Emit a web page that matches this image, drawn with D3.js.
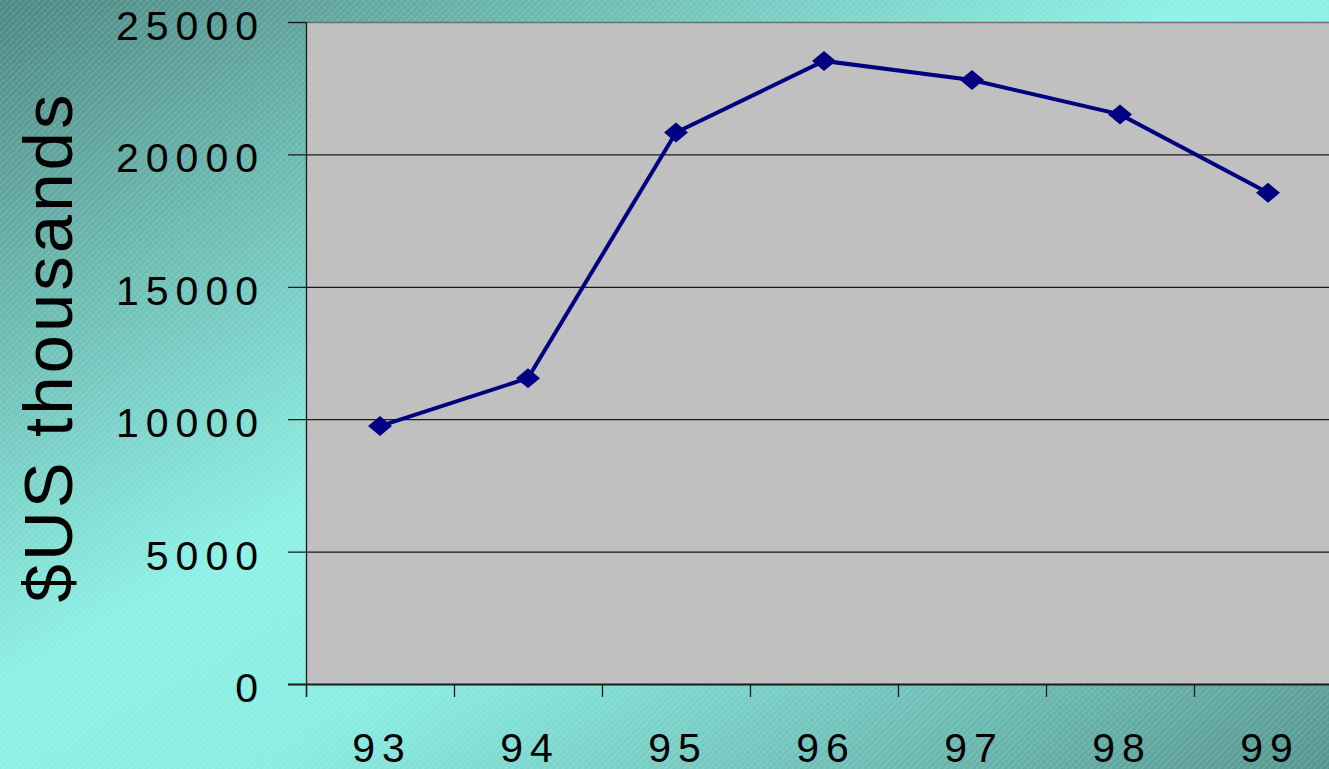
<!DOCTYPE html>
<html>
<head>
<meta charset="utf-8">
<script src="https://cdn.jsdelivr.net/npm/d3@7"></script>
<style>
  html, body { margin: 0; padding: 0; overflow: hidden; }
  svg { display: block; }
</style>
</head>
<body>
<div id="chart"></div>
<script>
// values
var years = ["93", "94", "95", "96", "97", "98", "99"];
var amounts = [9740, 11550, 20830, 23530, 22810, 21510, 18550];
var yTicks = [0, 5000, 10000, 15000, 20000, 25000];
var yTitle = "$US thousands";

window.onload = function() {
var W = 1329, H = 769;
var left = 306, top = 22, bottom = 684, band = 148;

var svg = d3.select("#chart")
            .append("svg")
            .attr("width", W)
            .attr("height", H);

var defs = svg.append("defs");

var grad = defs.append("linearGradient")
               .attr("id", "bg")
               .attr("x1", 0).attr("y1", 0)
               .attr("x2", 1).attr("y2", 1);
grad.append("stop").attr("offset", "0%").attr("stop-color", "#4d8782");
grad.append("stop").attr("offset", "45%").attr("stop-color", "#8df1e5");
grad.append("stop").attr("offset", "60%").attr("stop-color", "#88ece1");
grad.append("stop").attr("offset", "100%").attr("stop-color", "#55958f");

var hatch = defs.append("pattern")
                .attr("id", "hatch")
                .attr("patternUnits", "userSpaceOnUse")
                .attr("width", 4.5)
                .attr("height", 4.5)
                .attr("patternTransform", "rotate(45)");
hatch.append("line")
     .attr("x1", 1).attr("x2", 1)
     .attr("y1", 0).attr("y2", 4.5)
     .attr("stroke", "#ffffff")
     .attr("stroke-opacity", 0.3)
     .attr("stroke-width", 0.8)
     .attr("stroke-dasharray", "2,1");

svg.append("rect")
   .attr("width", W).attr("height", H)
   .attr("fill", "url(#bg)");
svg.append("rect")
   .attr("width", W).attr("height", H)
   .attr("fill", "url(#hatch)");

var x = d3.scaleBand()
          .domain(years)
          .range([left, left + band * years.length]);

var y = d3.scaleLinear()
          .domain([0, 25000])
          .range([bottom, top]);

// plot area
svg.append("rect")
   .attr("x", left)
   .attr("y", y(25000))
   .attr("width", x.range()[1] - left)
   .attr("height", y(0) - y(25000))
   .attr("fill", "#c0c0c0");

// gridlines + y ticks
svg.selectAll("grid")
   .data(yTicks)
   .enter()
   .append("line")
      .attr("x1", left - 18)
      .attr("x2", W)
      .attr("y1", function(d) { return y(d) + 0.5; })
      .attr("y2", function(d) { return y(d) + 0.5; })
      .attr("stroke", function(d) { return d == 25000 ? "#707070" : "#1a1a1a"; })
      .attr("stroke-width", function(d) { return d == 0 ? 2 : 1.3; });

// redraw the short tick on the top line in dark
svg.append("line")
   .attr("x1", left - 18).attr("x2", left)
   .attr("y1", y(25000) + 0.5).attr("y2", y(25000) + 0.5)
   .attr("stroke", "#1a1a1a").attr("stroke-width", 1.3);

// y axis line
svg.append("line")
   .attr("x1", left + 0.5).attr("x2", left + 0.5)
   .attr("y1", y(25000)).attr("y2", y(0) + 13)
   .attr("stroke", "#1a1a1a")
   .attr("stroke-width", 1.3);

// x ticks at category edges
svg.selectAll("xtick")
   .data(years)
   .enter()
   .append("line")
      .attr("x1", function(d) { return x(d) + 0.5; })
      .attr("x2", function(d) { return x(d) + 0.5; })
      .attr("y1", y(0))
      .attr("y2", y(0) + 13)
      .attr("stroke", "#1a1a1a")
      .attr("stroke-width", 1.3);

svg.selectAll("ylabel")
   .data(yTicks)
   .enter()
   .append("text")
      .text(function(d) { return d; })
      .attr("x", 265)
      .attr("y", function(d) { return y(d) + 18; })
      .attr("text-anchor", "end")
      .attr("font-family", "Liberation Sans, Arial, sans-serif")
      .attr("font-size", "41px")
      .attr("letter-spacing", "7px")
      .attr("fill", "#000");

svg.selectAll("xlabel")
   .data(years)
   .enter()
   .append("text")
      .text(function(d) { return d; })
      .attr("x", function(d) { return x(d) + x.bandwidth() / 2 + 2; })
      .attr("y", 762)
      .attr("text-anchor", "middle")
      .attr("font-family", "Liberation Sans, Arial, sans-serif")
      .attr("font-size", "41px")
      .attr("letter-spacing", "7px")
      .attr("fill", "#000");

svg.append("text")
   .text(yTitle)
   .attr("transform", "translate(72,347) rotate(-90)")
   .attr("text-anchor", "middle")
   .attr("font-family", "Liberation Sans, Arial, sans-serif")
   .attr("font-size", "69px")
   .attr("letter-spacing", "3px")
   .attr("fill", "#000");

var data = years.map(function(d, i) { return { year: d, value: amounts[i] }; });

var line = d3.line()
             .x(function(d) { return x(d.year) + x.bandwidth() / 2; })
             .y(function(d) { return y(d.value); });

svg.append("path")
   .datum(data)
   .attr("d", line)
   .attr("fill", "none")
   .attr("stroke", "#000080")
   .attr("stroke-width", 4);

svg.selectAll("marker")
   .data(data)
   .enter()
   .append("path")
      .attr("d", "M0,-10L12,0L0,10L-12,0Z")
      .attr("transform", function(d) {
        return "translate(" + (x(d.year) + x.bandwidth() / 2) + "," + y(d.value) + ")";
   })
   .attr("fill", "#000080");
};
</script>
</body>
</html>
